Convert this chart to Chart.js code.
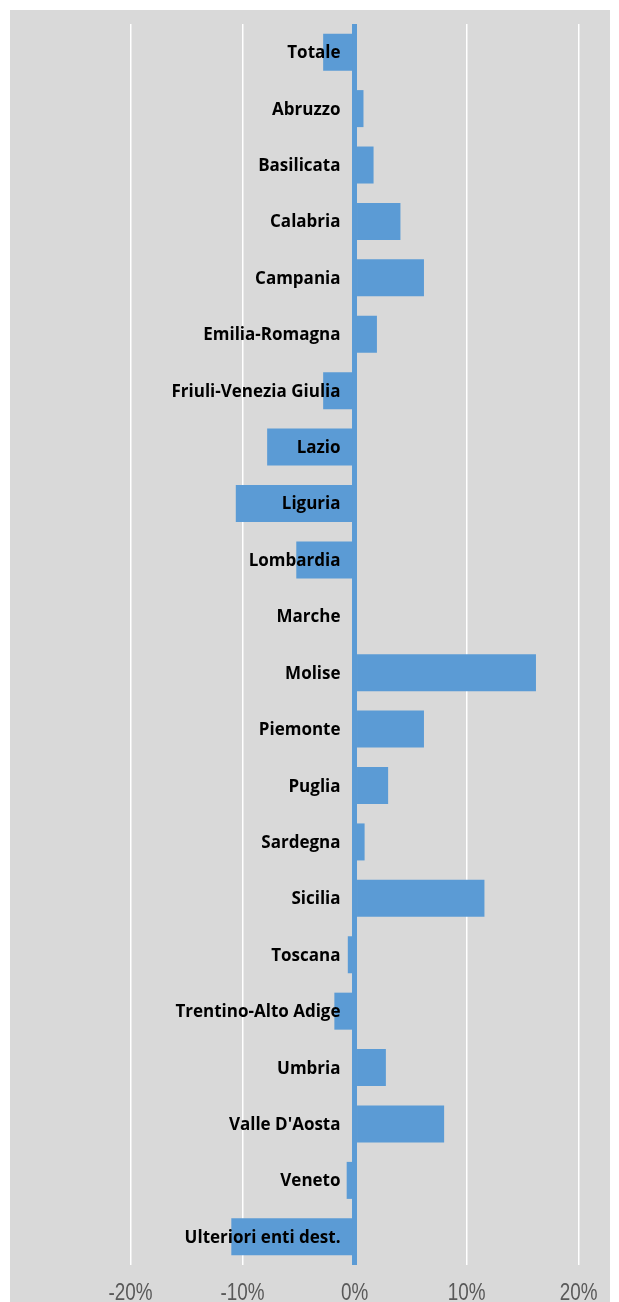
<!DOCTYPE html>
<html>
<head>
<meta charset="utf-8">
<script src="https://cdn.jsdelivr.net/npm/chart.js@4/dist/chart.umd.min.js"></script>
<style>
    html, body { margin: 0; padding: 0; background: #ffffff; }
    #wrap { position: absolute; left: 10px; top: 10px; width: 600px; height: 1292px; background: #d9d9d9; }
</style>
</head>
<body>
<div id="wrap"><canvas id="chart" width="600" height="1292"></canvas></div>
<script>
// Categories (top to bottom)
const regions = [
    "Totale", "Abruzzo", "Basilicata", "Calabria", "Campania", "Emilia-Romagna",
    "Friuli-Venezia Giulia", "Lazio", "Liguria", "Lombardia", "Marche", "Molise",
    "Piemonte", "Puglia", "Sardegna", "Sicilia", "Toscana", "Trentino-Alto Adige",
    "Umbria", "Valle D'Aosta", "Veneto", "Ulteriori enti dest."
];

// Variation in percent
const variation = [
    -2.8, 0.8, 1.7, 4.1, 6.2, 2.0,
    -2.8, -7.8, -10.6, -5.2, 0, 16.2,
    6.2, 3.0, 0.9, 11.6, -0.6, -1.8,
    2.8, 8.0, -0.7, -11.0
];

// Tick values shown on the x axis
const xTicks = [-20, -10, 0, 10, 20];

const barColor = "#5b9bd5";

// Category names, right-aligned against the zero line
const zeroLabels = {
    id: "zeroLabels",
    afterDatasetsDraw(chart) {
        const ctx = chart.ctx;
        const x = chart.scales.x.getPixelForValue(0) - 14;
        const y = chart.scales.y;
        ctx.save();
        ctx.font = "bold 17px 'Open Sans'";
        ctx.fillStyle = "#000000";
        ctx.textAlign = "right";
        ctx.textBaseline = "alphabetic";
        regions.forEach((name, i) => {
            ctx.fillText(name, x, y.getPixelForValue(i) + 6);
        });
        ctx.restore();
    }
};

// Narrow tick labels under the plot (no condensed font installed, so squeeze it)
const narrowTicks = {
    id: "narrowTicks",
    afterDraw(chart) {
        const ctx = chart.ctx;
        const xs = chart.scales.x;
        const yBase = chart.chartArea.bottom + 35;
        ctx.save();
        ctx.font = "23px 'Liberation Sans'";
        ctx.fillStyle = "#595959";
        ctx.textAlign = "center";
        ctx.textBaseline = "alphabetic";
        xs.ticks.forEach(t => {
            const px = xs.getPixelForValue(t.value);
            ctx.save();
            ctx.translate(px, yBase);
            ctx.scale(0.82, 1);
            ctx.fillText(t.value + "%", 0, 0);
            ctx.restore();
        });
        ctx.restore();
    }
};

const ctx = document.getElementById("chart").getContext("2d");
new Chart(ctx, {
    type: "bar",
    data: {
        labels: regions,
        datasets: [{
            data: variation,
            backgroundColor: barColor,
            borderWidth: 0,
            barPercentage: 0.656,
            categoryPercentage: 1.0,
        }],
    },
    plugins: [zeroLabels, narrowTicks],
    options: {
        indexAxis: "y",
        responsive: false,
        animation: false,
        layout: { padding: { top: 14, bottom: 37, left: 0, right: 0 } },
        plugins: {
            legend: { display: false },
            tooltip: { enabled: false },
        },
        scales: {
            x: {
                min: -30.76,
                max: 22.81,
                afterBuildTicks: (scale) => {
                    scale.ticks = xTicks.map(v => ({ value: v }));
                },
                border: { display: false },
                grid: {
                    drawTicks: false,
                    color: (c) => c.tick && c.tick.value === 0 ? barColor : "#ffffff",
                    lineWidth: (c) => c.tick && c.tick.value === 0 ? 5 : 1.5,
                },
                ticks: { display: false },
            },
            y: {
                display: false,
            },
        },
    },
});
</script>
</body>
</html>
